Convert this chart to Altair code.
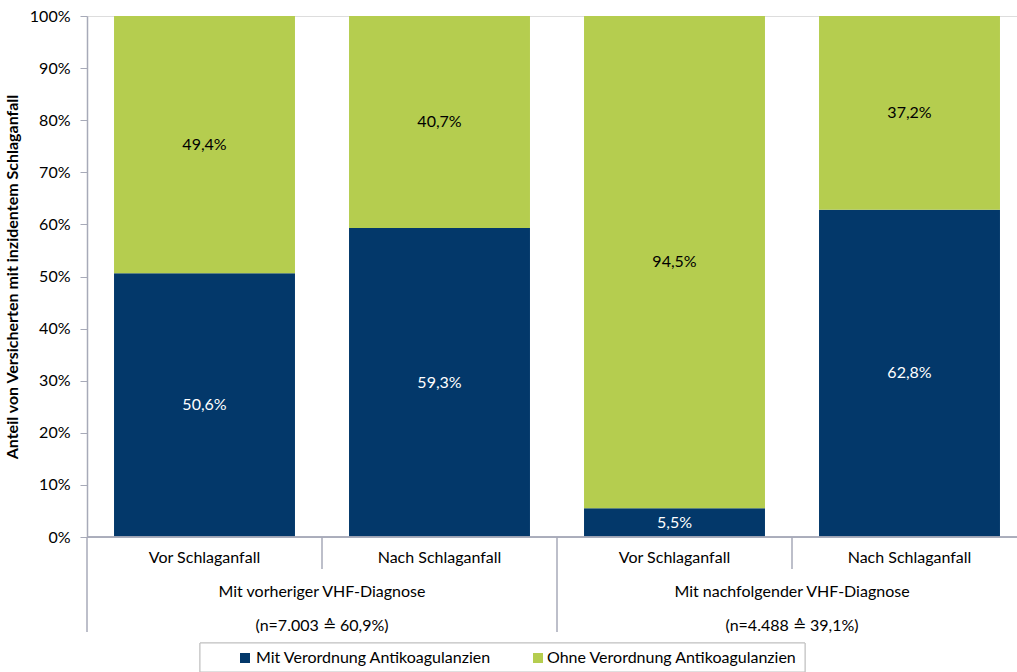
import altair as alt
import pandas as pd

categories = ["Vor Schlaganfall", "Nach Schlaganfall", "Vor Schlaganfall", "Nach Schlaganfall"]
group_of_bar = [0, 0, 1, 1]
groups = ["Mit vorheriger VHF-Diagnose", "Mit nachfolgender VHF-Diagnose"]
group_n = ["(n=7.003 \u2259 60,9%)", "(n=4.488 \u2259 39,1%)"]
series = ["Mit Verordnung Antikoagulanzien", "Ohne Verordnung Antikoagulanzien"]
mit = [50.6, 59.3, 5.5, 62.8]
ohne = [49.4, 40.7, 94.5, 37.2]
y_ticks = [0, 10, 20, 30, 40, 50, 60, 70, 80, 90, 100]
colors = ["#03386a", "#b5cd4f"]
text_colors = ["white", "black"]

FONT = "Lato"
FS = 16
W, H = 930, 521
STEP = 235.0
AXIS_COL = "#a7aab8"
BAR_FRAC = 0.77

rows = []
for i, cat in enumerate(categories):
    lo = 0.0
    for s, vals in zip(series, [mit, ohne]):
        v = vals[i]
        rows.append({
            "idx": i, "cat": cat, "series": s, "value": v,
            "y0": lo, "y1": lo + v, "ymid": lo + v / 2,
            "xa": i + (1 - BAR_FRAC) / 2, "xb": i + 1 - (1 - BAR_FRAC) / 2,
            "xc": i + 0.5,
            "label": f"{v:.1f}".replace(".", ",") + "%",
        })
        lo += v
df = pd.DataFrame(rows)

xscale = alt.Scale(domain=[0, W / STEP], nice=False, zero=False)
yscale = alt.Scale(domain=[0, 100], nice=False)
cscale = alt.Scale(domain=series, range=colors)

bars = alt.Chart(df).mark_rect().encode(
    x=alt.X("xa:Q", scale=xscale, axis=None),
    x2="xb:Q",
    y=alt.Y("y0:Q", scale=yscale,
            axis=alt.Axis(values=y_ticks, labelExpr="datum.value + '%'",
                          title="Anteil von Versicherten mit inzidentem Schlaganfall",
                          titleFont=FONT, titleFontSize=FS, titleFontWeight="bold",
                          titleColor="black", titlePadding=9,
                          labelFont=FONT, labelFontSize=FS, labelColor="black",
                          labelPadding=10,
                          grid=False, domainColor=AXIS_COL, tickColor=AXIS_COL,
                          tickSize=7, domainWidth=1.5)),
    y2="y1:Q",
    color=alt.Color("series:N", scale=cscale, legend=None),
)

label_layers = []
for s, tc in zip(series, text_colors):
    label_layers.append(
        alt.Chart(df[df["series"] == s]).mark_text(font=FONT, fontSize=FS, color=tc).encode(
            x=alt.X("xc:Q", scale=xscale),
            y=alt.Y("ymid:Q", scale=yscale),
            text="label:N",
        )
    )

# category labels
cat_df = pd.DataFrame({"xc": [i + 0.5 for i in range(len(categories))], "cat": categories})
cat_text = alt.Chart(cat_df).mark_text(font=FONT, fontSize=FS, color="black").encode(
    x=alt.X("xc:Q", scale=xscale), y=alt.value(H + 21), text="cat:N")

# group labels
gdf = pd.DataFrame({
    "gx": [sum(i + 0.5 for i, g in enumerate(group_of_bar) if g == k) /
           group_of_bar.count(k) for k in range(len(groups))],
    "g": groups, "n": group_n})
g_text1 = alt.Chart(gdf).mark_text(font=FONT, fontSize=FS, color="black").encode(
    x=alt.X("gx:Q", scale=xscale), y=alt.value(H + 55), text="g:N")
g_text2 = alt.Chart(gdf).mark_text(font=FONT, fontSize=FS, color="black").encode(
    x=alt.X("gx:Q", scale=xscale), y=alt.value(H + 89), text="n:N")

# separators
cat_sep = pd.DataFrame({"b": [i for i in range(1, len(categories)) if group_of_bar[i] == group_of_bar[i - 1]]})
grp_sep = pd.DataFrame({"b": [0] + [i for i in range(1, len(categories)) if group_of_bar[i] != group_of_bar[i - 1]]})
sep1 = alt.Chart(cat_sep).mark_rule(color=AXIS_COL, strokeWidth=1.5).encode(
    x=alt.X("b:Q", scale=xscale), y=alt.value(H), y2=alt.value(H + 32))
sep2 = alt.Chart(grp_sep).mark_rule(color=AXIS_COL, strokeWidth=1.5).encode(
    x=alt.X("b:Q", scale=xscale), y=alt.value(H), y2=alt.value(H + 95))
baseline = alt.Chart(cat_sep).mark_rule(color=AXIS_COL, strokeWidth=1.5).encode(
    x=alt.value(0), x2=alt.value(W), y=alt.value(H))

# legend (manual)
leg_box = alt.Chart(cat_sep).mark_rect(fill="white", stroke="#bfbfbf", strokeWidth=1).encode(
    x=alt.value(113), x2=alt.value(718), y=alt.value(627), y2=alt.value(656))
leg_df = pd.DataFrame({"series": series, "px": [158, 451], "tx": [169, 460]})
leg_sym = alt.Chart(leg_df).mark_square(size=100, opacity=1).encode(
    x=alt.X("px:Q", scale=None), y=alt.value(642),
    color=alt.Color("series:N", scale=cscale, legend=None))
leg_txt = alt.Chart(leg_df).mark_text(font=FONT, fontSize=FS, color="black", align="left").encode(
    x=alt.X("tx:Q", scale=None), y=alt.value(642), text="series:N")

chart = alt.layer(
    bars, *label_layers, baseline, sep1, sep2, cat_text, g_text1, g_text2,
    leg_box, leg_sym, leg_txt
).properties(
    width=W, height=H,
    autosize=alt.AutoSizeParams(type="none"),
    padding={"left": 87, "top": 16, "right": 0, "bottom": 135},
).configure_view(stroke=None).configure(background="white")

chart.save("out.html", embed_options={"renderer": "svg", "actions": False})
